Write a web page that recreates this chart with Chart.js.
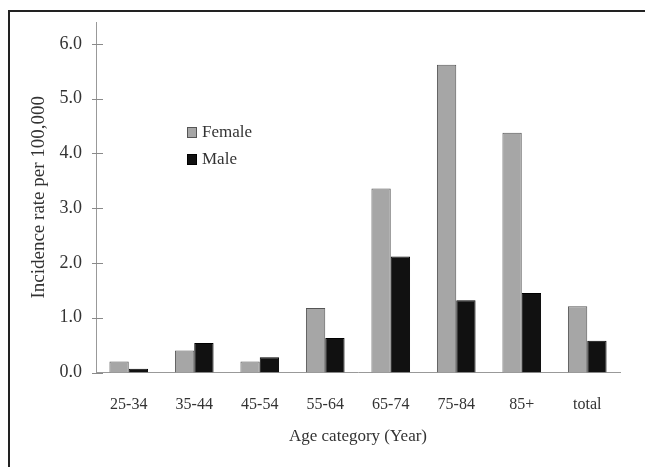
<!DOCTYPE html>
<html>
<head>
<meta charset="utf-8">
<script src="https://cdn.jsdelivr.net/npm/chart.js@4.4.0/dist/chart.umd.min.js"></script>
<style>
  html, body { margin: 0; padding: 0; background: #fff; }
  #wrap { width: 645px; height: 467px; position: relative; }
</style>
</head>
<body>
<div id="wrap"><canvas id="c" width="645" height="467"></canvas></div>
<script>
const categories = ["25-34", "35-44", "45-54", "55-64", "65-74", "75-84", "85+", "total"];
const femaleValues = [0.20, 0.40, 0.20, 1.18, 3.36, 5.62, 4.38, 1.21];
const maleValues = [0.07, 0.54, 0.28, 0.63, 2.12, 1.32, 1.45, 0.58];
const yTickValues = [0, 1, 2, 3, 4, 5, 6];
const seriesNames = ["Female", "Male"];
const yTitle = "Incidence rate per 100,000";
const xTitle = "Age category (Year)";

const FONT = "'Liberation Serif', 'DejaVu Serif', serif";

const framePlugin = {
  id: 'frame',
  beforeDraw(chart) {
    const ctx = chart.ctx;
    ctx.save();
    ctx.fillStyle = '#fff';
    ctx.fillRect(0, 0, chart.width, chart.height);
    ctx.strokeStyle = '#222';
    ctx.lineWidth = 2;
    ctx.beginPath();
    ctx.moveTo(645, 11);
    ctx.lineTo(9, 11);
    ctx.lineTo(9, 467);
    ctx.stroke();
    ctx.restore();
  }
};

const yTickMarks = {
  id: 'yTickMarks',
  afterDraw(chart) {
    const s = chart.scales.y;
    const ctx = chart.ctx;
    ctx.save();
    ctx.strokeStyle = '#8a8a8a';
    ctx.lineWidth = 1;
    s.ticks.forEach(t => {
      const y = Math.round(s.getPixelForValue(t.value)) + 0.5;
      ctx.beginPath();
      ctx.moveTo(s.right - 4, y);
      ctx.lineTo(s.right + 7, y);
      ctx.stroke();
    });
    ctx.restore();
  }
};

const innerLegend = {
  id: 'innerLegend',
  afterDraw(chart) {
    const ctx = chart.ctx;
    ctx.save();
    ctx.font = "17px " + FONT;
    ctx.textBaseline = 'middle';
    chart.data.datasets.forEach((ds, i) => {
      const x = 187, y = 127 + i * 27;
      ctx.fillStyle = ds.backgroundColor;
      ctx.fillRect(x, y, 10, 11);
      ctx.strokeStyle = ds.borderColor;
      ctx.lineWidth = 1;
      ctx.strokeRect(x + 0.5, y + 0.5, 9, 10);
      ctx.fillStyle = '#333';
      ctx.fillText(ds.label, x + 15, y + 6);
    });
    ctx.restore();
  }
};

new Chart(document.getElementById('c'), {
  type: 'bar',
  data: {
    labels: categories,
    datasets: [
      { label: seriesNames[0], data: femaleValues, backgroundColor: '#a6a6a6', borderColor: '#555', borderWidth: 1 },
      { label: seriesNames[1], data: maleValues, backgroundColor: '#111', borderColor: '#000', borderWidth: 1 }
    ]
  },
  options: {
    responsive: false,
    animation: false,
    devicePixelRatio: 1,
    layout: { padding: { left: 0, right: 25, top: 22, bottom: 0 } },
    plugins: { legend: { display: false }, tooltip: { enabled: false } },
    datasets: { bar: { categoryPercentage: 0.59, barPercentage: 1.0 } },
    scales: {
      x: {
        grid: { display: false },
        border: { display: true, color: '#999', width: 1 },
        ticks: { color: '#333', font: { family: FONT, size: 16 }, padding: 15, maxRotation: 0 },
        title: { display: true, text: xTitle, color: '#333', font: { family: FONT, size: 17 }, padding: { top: 4, bottom: 20 } },
        afterFit(s) { s.height = 94.5; }
      },
      y: {
        min: 0, max: 6.4,
        afterBuildTicks(s) { s.ticks = yTickValues.map(v => ({ value: v })); },
        grid: { display: false },
        border: { display: true, color: '#999', width: 1 },
        ticks: { color: '#333', font: { family: FONT, size: 18 }, padding: 6, callback: v => Number(v).toFixed(1) },
        title: { display: true, text: yTitle, color: '#333', font: { family: FONT, size: 19 }, padding: { top: 28, bottom: 0 } },
        afterFit(s) { s.width = 96; }
      }
    }
  },
  plugins: [framePlugin, yTickMarks, innerLegend]
});
</script>
</body>
</html>
